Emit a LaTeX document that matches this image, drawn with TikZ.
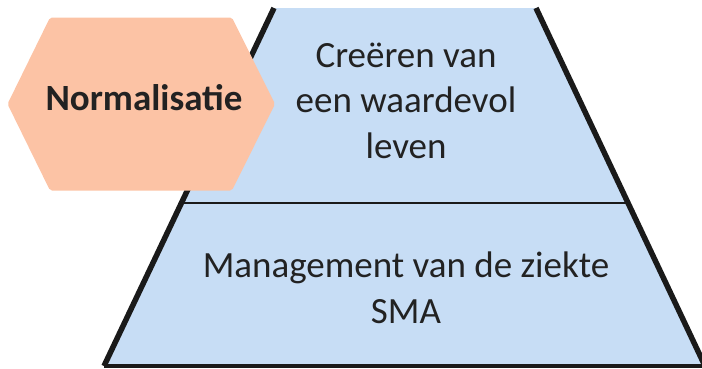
\documentclass[tikz,border=0pt]{standalone}
\usepackage{fontspec}
\setmainfont{Carlito}
\definecolor{pyrblue}{HTML}{C7DDF5}
\definecolor{hexsalmon}{HTML}{FCC3A5}
\definecolor{edgedark}{HTML}{1A1A1A}
\definecolor{txtdark}{HTML}{222222}
\tikzset{
  pyrtext/.style={inner sep=0pt, align=center, text=txtdark,
    font=\fontsize{37}{45.5}\selectfont},
  hextext/.style={inner sep=0pt, text=txtdark,
    font=\fontsize{37}{45.5}\selectfont\bfseries},
  sideedge/.style={draw=edgedark, line width=5.5pt},
}
\begin{document}
\begin{tikzpicture}[x=1pt,y=-1pt]
\useasboundingbox (0,0) rectangle (702,368);
% corners of the trapezoid
\coordinate (tl) at (274,8);
\coordinate (tr) at (536,8);
\coordinate (bl) at (104,366);
\coordinate (br) at (705,366);
\coordinate (ml) at (183.5,203);
\coordinate (mr) at (627,203);
\fill[pyrblue] (tl) -- (tr) -- (br) -- (bl) -- cycle;
\draw[draw=edgedark, line width=2.2pt] (ml) -- (mr);
\draw[draw=edgedark, line width=4.5pt] (bl) -- (br);
\draw[sideedge] (tl) -- (bl);
\draw[sideedge] (tr) -- (br);
% hexagon
\fill[hexsalmon, rounded corners=2pt] (7.5,104) -- (50,17.5) -- (232,17.5) -- (275,104) -- (232,190.5) -- (50,190.5) -- cycle;
\node[hextext, anchor=base] (norm) at (144,110) {Normalisatie};
\node[pyrtext] (top) at (406,100.5) {Creëren van\\een waardevol\\leven};
\node[pyrtext] (bottom) at (406,288) {Management van de ziekte\\SMA};
\end{tikzpicture}
\end{document}
